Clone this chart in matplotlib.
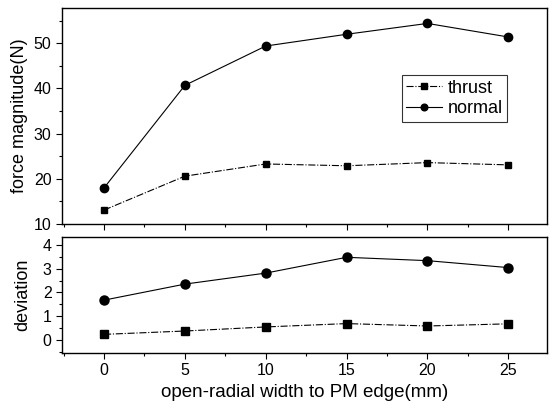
import matplotlib
matplotlib.use("Agg")
import matplotlib.pyplot as plt
from matplotlib.ticker import MultipleLocator

plt.rcParams['font.family'] = ['Liberation Sans', 'DejaVu Sans']

width = [0, 5, 10, 15, 20, 25]
thrust_force = [13.1, 20.6, 23.3, 22.9, 23.6, 23.1]
normal_force = [18.0, 40.7, 49.4, 52.0, 54.4, 51.4]
thrust_dev = [0.25, 0.39, 0.56, 0.70, 0.60, 0.69]
normal_dev = [1.68, 2.35, 2.81, 3.47, 3.33, 3.04]

fig = plt.figure(figsize=(5.56, 4.03), dpi=100)
ax1 = fig.add_axes([0.1115, 0.444, 0.8725, 0.536])
ax2 = fig.add_axes([0.1115, 0.124, 0.8725, 0.288])

lw = 0.8
for ax in (ax1, ax2):
    for s in ax.spines.values():
        s.set_linewidth(1.0)
    ax.set_xlim(-2.6, 27.4)
    ax.xaxis.set_major_locator(MultipleLocator(5))
    ax.xaxis.set_minor_locator(MultipleLocator(2.5))
    ax.tick_params(which='major', direction='out', length=4, width=0.8, labelsize=11.5)
    ax.tick_params(which='minor', direction='out', length=2.5, width=0.8)

ax1.plot(width, thrust_force, color='black', lw=lw, ls='-.', marker='s', ms=5, label='thrust')
ax1.plot(width, normal_force, color='black', lw=lw, ls='-', marker='o', ms=6, label='normal')
ax1.set_ylim(10, 57.8)
ax1.yaxis.set_major_locator(MultipleLocator(10))
ax1.yaxis.set_minor_locator(MultipleLocator(5))
ax1.tick_params(axis='x', labelbottom=False)
ax1.set_ylabel('force magnitude(N)', fontsize=13, labelpad=4)
leg = ax1.legend(loc='upper left', bbox_to_anchor=(0.70, 0.69), fontsize=13,
                 frameon=True, fancybox=False, edgecolor='black', handlelength=2.0,
                 handletextpad=0.3, borderpad=0.25, labelspacing=0.2, borderaxespad=0,
                 markerscale=0.8)
leg.get_frame().set_linewidth(0.8)

ax2.plot(width, thrust_dev, color='black', lw=lw, ls='-.', marker='s', ms=5.5)
ax2.plot(width, normal_dev, color='black', lw=lw, ls='-', marker='o', ms=6.5)
ax2.set_ylim(-0.53, 4.32)
ax2.yaxis.set_major_locator(MultipleLocator(1))
ax2.yaxis.set_minor_locator(MultipleLocator(0.5))
ax2.set_ylabel('deviation', fontsize=13, labelpad=8)
ax2.set_xlabel('open-radial width to PM edge(mm)', fontsize=13.5, labelpad=4)

fig.savefig('out.png', dpi=100)
